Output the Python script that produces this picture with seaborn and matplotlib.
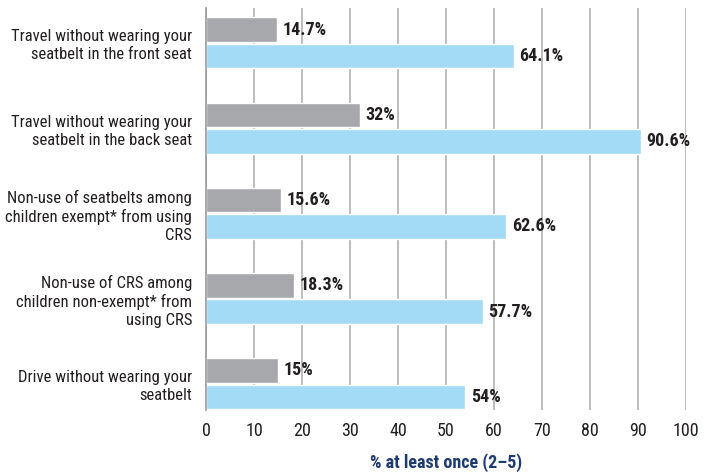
import matplotlib
matplotlib.use("Agg")
import matplotlib.pyplot as plt
import seaborn as sns
import pandas as pd

# data
categories = [
    "Travel without wearing your\nseatbelt in the front seat",
    "Travel without wearing your\nseatbelt in the back seat",
    "Non-use of seatbelts among\nchildren exempt* from using\nCRS",
    "Non-use of CRS among\nchildren non-exempt* from\nusing CRS",
    "Drive without wearing your\nseatbelt",
]
grey_values = [14.7, 32, 15.6, 18.3, 15]
blue_values = [64.1, 90.6, 62.6, 57.7, 54]
grey_labels = ["14.7%", "32%", "15.6%", "18.3%", "15%"]
blue_labels = ["64.1%", "90.6%", "62.6%", "57.7%", "54%"]
series = ["grey", "blue"]
x_ticks = list(range(0, 101, 10))
x_title = "% at least once (2\u20135)"

sns.set_style("white")
plt.rcParams["font.family"] = ["Roboto Condensed", "DejaVu Sans"]

df = pd.DataFrame({
    "category": categories * 2,
    "series": [series[0]] * len(categories) + [series[1]] * len(categories),
    "value": grey_values + blue_values,
})

fig = plt.figure(figsize=(7.13, 4.72), dpi=100)
ax = fig.add_axes([206 / 713, 1 - 410 / 472, 480 / 713, 402 / 472])

sns.barplot(data=df, x="value", y="category", hue="series", order=categories,
            hue_order=series, palette=["#A7A8AC", "#A3DAF5"], width=0.62,
            gap=0.07, orient="h", legend=False, ax=ax, saturation=1)

for container, labels in zip(ax.containers, [grey_labels, blue_labels]):
    ax.bar_label(container, labels=labels, padding=4, fontsize=13,
                 fontweight="bold", color="#231F20")

ax.set_xlim(0, 100)
ax.set_ylim(4.31, -0.41)
ax.set_xticks(x_ticks)
ax.tick_params(axis="x", length=5, width=1.2, color="#B0B0B0",
               labelsize=13, labelcolor="#231F20", pad=4)
ax.tick_params(axis="y", length=0, labelsize=12, labelcolor="#231F20", pad=10)
ax.xaxis.grid(True, color="#B0B0B0", linewidth=1.2)
ax.set_axisbelow(True)
for s in ["top", "right", "bottom"]:
    ax.spines[s].set_visible(False)
ax.spines["left"].set_color("#9A9A9A")
ax.spines["left"].set_linewidth(1.2)
ax.set_ylabel("")
ax.set_xlabel(x_title, fontsize=13, fontweight="bold", color="#1F3A6E",
              labelpad=9)
for lab in ax.get_yticklabels():
    lab.set_linespacing(1.25)

fig.savefig("out.png", dpi=100)
